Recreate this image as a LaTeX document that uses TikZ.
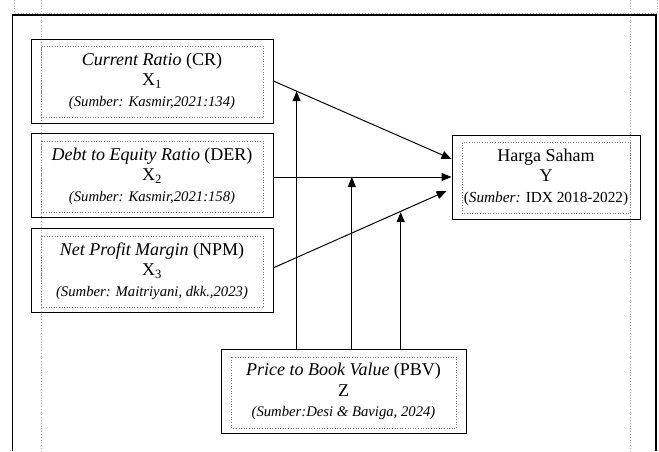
\documentclass[tikz,border=0pt]{standalone}
\usepackage{fontspec}
\setmainfont{Liberation Serif}
\usetikzlibrary{arrows.meta,positioning,calc}

\newcommand{\sumber}[1]{{\fontsize{14.7}{17}\selectfont #1}}

\begin{document}
\begin{tikzpicture}[
      x = 1pt,y = -1pt,
      node distance = 10pt and 10pt,
      varbox/.style = {rectangle,draw,line width = 0.9pt,minimum width = 242pt,minimum height = 84pt,
                       inner sep = 0pt,align = center,font = \fontsize{18}{20.5}\selectfont},
      inbox/.style = {draw = gray,dotted,line width = 0.6pt},
      margin/.style = {gray!70,dotted,line width = 0.8pt},
      arrow/.style = {-{Triangle[length = 10pt,width = 8pt]},line width = 1pt}
    ]
      \useasboundingbox (0,0) rectangle (659,451);

      % page margins and frame
      \draw[margin] (14,0) -- (14,13) -- (659,13);
      \draw[margin] (657,0) -- (657,13);
      \draw[margin] (41,0) -- (41,451);
      \draw[margin] (630,0) -- (630,451);
      \draw[line width = 1.1pt] (12.5,451) |- (656,15) -- (656,451);

      \node (cr)[varbox] at (152,81) {\textit{Current Ratio} (CR)\\X\textsubscript{1}\\\sumber{\textit{(Sumber: Kasmir,2021:134)}}};
      \node (der)[varbox,below = of cr] {\textit{Debt to Equity Ratio} (DER)\\X\textsubscript{2}\\\sumber{\textit{(Sumber: Kasmir,2021:158)}}};
      \node (npm)[varbox,below = of der] {\textit{Net Profit Margin} (NPM)\\X\textsubscript{3}\\\sumber{\textit{(Sumber: Maitriyani, dkk.,2023)}}};
      \node (hs)[varbox,minimum width = 188pt] at (546,177) {Harga Saham\\Y\\{\fontsize{15.3}{17}\selectfont(\textit{Sumber:} IDX 2018-2022)}};
      \node (pbv)[varbox,minimum width = 245pt] at (343.5,391.5) {\textit{Price to Book Value} (PBV)\\Z\\\sumber{\textit{(Sumber:Desi \& Baviga, 2024)}}};

      \foreach \n in {cr,der,npm,hs,pbv}
        \draw[inbox] ($(\n.north west)+(11pt,-8pt)$) rectangle ($(\n.south east)+(-10pt,6pt)$);

      \coordinate (y1) at ($(hs.west)+(0pt,18pt)$);
      \coordinate (y3) at ($(hs.west)+(-5pt,-14pt)$);
      \draw[arrow] (cr.east) -- (y1);
      \draw[arrow] (der.east |- hs.west) -- (hs.west);
      \draw[arrow] ($(npm.east)+(0pt,3pt)$) -- (y3);

      % moderating lines
      \coordinate (m1) at ($(cr.east)!0.13!(y1)$);
      \coordinate (m2) at ($(der.east |- hs.west)!0.44!(hs.west)$);
      \coordinate (m3) at ($(npm.east)!0.735!(y3)$);
      \foreach \m in {m1,m2,m3}
        \draw[arrow] (pbv.north -| \m) -- (\m);
    \end{tikzpicture}
\end{document}
